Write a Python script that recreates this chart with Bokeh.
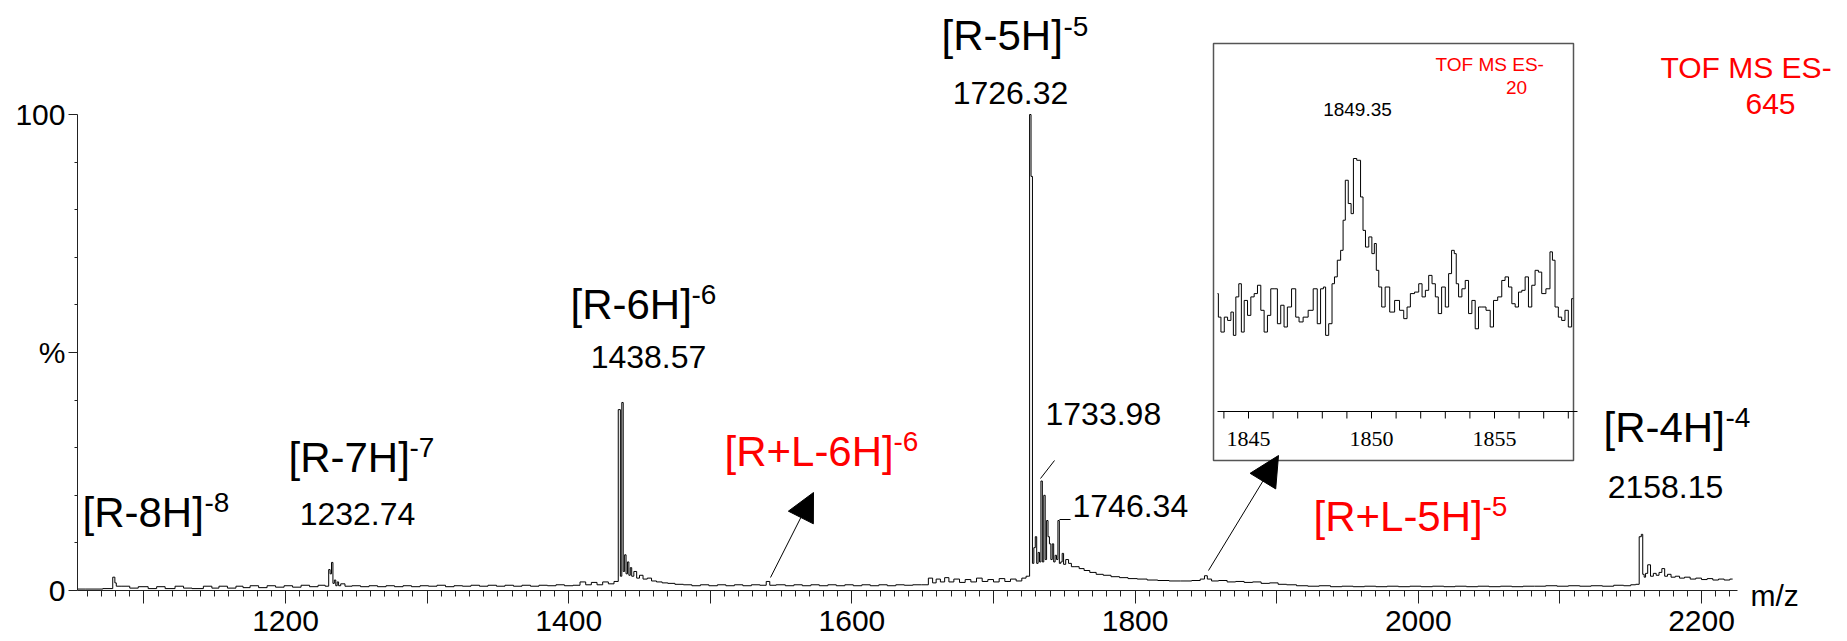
from bokeh.plotting import figure
from bokeh.models import Range1d, FixedTicker, Label, LabelSet, ColumnDataSource, Arrow, NormalHead
from bokeh.embed import file_html
from bokeh.resources import INLINE

# ---------------- data ----------------
spectrum_points = [
    (1053, 0.3), (1065, 0.3), (1077, 0.4), (1079, 2.8), (1080, 1.6), (1081, 0.9), (1088, 0.9), (1092, 0.5),
    (1100, 0.8), (1106, 0.4), (1112, 0.8), (1118, 0.4), (1126, 0.9), (1130, 0.5), (1138, 0.4), (1146, 0.9),
    (1150, 0.5), (1156, 0.9), (1162, 0.5), (1168, 0.9), (1172, 0.6), (1178, 1.0), (1184, 0.6), (1190, 1.0),
    (1196, 0.7), (1202, 1.0), (1208, 0.7), (1214, 1.1), (1220, 0.8), (1226, 1.1), (1230, 0.9),
    (1231, 4.4), (1232, 3.5), (1233, 5.9), (1234, 1.5), (1235, 2.2), (1236, 1.0), (1237, 1.8), (1238, 1.0),
    (1240, 1.4), (1244, 0.9), (1250, 1.0), (1256, 0.8), (1262, 1.0), (1268, 0.8), (1274, 1.0), (1280, 0.8),
    (1286, 1.0), (1292, 0.8), (1298, 1.0), (1304, 0.9), (1310, 1.1), (1316, 0.8), (1322, 1.0), (1328, 0.9),
    (1334, 1.1), (1340, 0.9), (1346, 1.1), (1352, 0.9), (1358, 1.1), (1364, 0.9), (1370, 1.1), (1376, 0.9),
    (1382, 1.1), (1388, 1.0), (1394, 1.2), (1400, 1.0), (1406, 1.1), (1410, 1.8), (1414, 1.2), (1418, 1.7),
    (1422, 1.2), (1426, 1.8), (1430, 1.4), (1434, 1.9),
    (1436, 38.0), (1437, 3.0), (1438, 39.5), (1439, 4.0), (1440, 7.5), (1441, 3.5), (1442, 6.0), (1443, 3.2),
    (1444, 4.8), (1445, 3.0), (1447, 4.0), (1449, 2.6), (1451, 3.2), (1454, 2.4), (1457, 2.6), (1460, 2.0),
    (1464, 1.8), (1468, 1.6), (1472, 1.5), (1478, 1.3), (1484, 1.2), (1490, 1.0), (1496, 1.2), (1502, 1.0),
    (1508, 1.2), (1514, 1.0), (1520, 1.2), (1526, 1.0), (1532, 1.2), (1538, 1.1), (1541, 1.9), (1543, 1.1),
    (1550, 1.2), (1556, 1.0), (1562, 1.2), (1568, 1.0), (1574, 1.2), (1580, 1.0), (1586, 1.2), (1592, 1.0),
    (1598, 1.2), (1604, 1.0), (1610, 1.2), (1616, 1.0), (1622, 1.2), (1628, 1.0), (1634, 1.2), (1640, 1.1),
    (1646, 1.2), (1652, 1.2), (1656, 2.6), (1658, 1.6), (1661, 2.4), (1664, 1.8), (1667, 2.7), (1670, 1.8),
    (1674, 2.4), (1678, 1.7), (1682, 2.3), (1686, 1.8), (1690, 2.6), (1694, 1.9), (1698, 2.3), (1702, 1.8),
    (1706, 2.5), (1710, 1.9), (1714, 2.4), (1718, 2.0), (1722, 2.6), (1724, 3.0), (1725, 3.0),
    (1726, 100.0), (1727, 87.0), (1728, 5.7), (1729, 9.0), (1730, 11.3), (1731, 5.7), (1732, 8.0), (1733, 6.0),
    (1734, 23.0), (1735, 6.0), (1736, 20.0), (1737, 6.5), (1738, 14.7), (1739, 11.3), (1740, 9.8), (1741, 6.5),
    (1742, 9.8), (1743, 6.0), (1744, 7.4), (1745, 6.5), (1746, 14.7), (1747, 5.7), (1748, 6.0), (1749, 7.8),
    (1750, 5.5), (1752, 6.5), (1754, 5.7), (1756, 5.0), (1759, 5.0), (1762, 4.6), (1766, 4.2), (1770, 3.8),
    (1775, 3.4), (1780, 3.2), (1786, 2.9), (1792, 2.7), (1798, 2.5), (1805, 2.4), (1812, 2.2), (1820, 2.1),
    (1828, 2.0), (1836, 2.0), (1844, 2.1), (1848, 2.4), (1850, 3.1), (1852, 2.4), (1856, 2.0), (1862, 2.1),
    (1868, 1.8), (1874, 1.9), (1880, 1.7), (1886, 1.8), (1892, 1.5), (1898, 1.6), (1904, 1.3), (1910, 1.2),
    (1918, 1.0), (1926, 0.9), (1934, 1.0), (1942, 0.8), (1950, 0.9), (1958, 0.8), (1966, 0.9), (1974, 0.8),
    (1982, 0.9), (1990, 0.8), (1998, 0.9), (2006, 0.8), (2014, 0.9), (2022, 0.8), (2030, 0.9), (2038, 0.8),
    (2046, 0.9), (2054, 0.8), (2062, 0.9), (2070, 0.8), (2078, 0.9), (2086, 0.9), (2094, 1.0), (2102, 0.9),
    (2110, 1.0), (2118, 0.9), (2126, 1.0), (2134, 0.9), (2142, 1.1), (2148, 1.0), (2152, 1.2), (2155, 1.3),
    (2157, 11.3), (2158, 11.8), (2159, 3.4), (2160, 2.8), (2161, 3.6), (2163, 5.4), (2165, 3.0), (2167, 3.6),
    (2169, 3.2), (2171, 3.8), (2173, 4.6), (2175, 3.0), (2177, 3.4), (2180, 2.8), (2183, 3.0), (2186, 2.6),
    (2190, 2.8), (2194, 2.4), (2198, 2.6), (2202, 2.3), (2206, 2.5), (2210, 2.2), (2214, 2.4), (2218, 2.2),
    (2222, 2.4),
]
spec_mz = [a for a, b in spectrum_points]
spec_int = [b for a, b in spectrum_points]

inset_points = [
    (1843.74, 46.6), (1843.81, 37.3), (1843.95, 31.4), (1844.08, 37.3), (1844.22, 36.0), (1844.35, 39.3),
    (1844.42, 30.1), (1844.55, 45.3), (1844.66, 50.5), (1844.76, 31.4), (1844.89, 43.9), (1845.03, 38.0),
    (1845.16, 45.3), (1845.30, 46.6), (1845.43, 49.9), (1845.57, 40.0), (1845.70, 31.4), (1845.84, 38.0),
    (1845.97, 48.5), (1846.11, 48.5), (1846.24, 34.7), (1846.38, 42.0), (1846.51, 33.4), (1846.65, 41.3),
    (1846.85, 48.5), (1846.99, 37.3), (1847.12, 35.4), (1847.32, 37.3), (1847.53, 40.0), (1847.73, 48.5),
    (1847.86, 34.7), (1848.00, 48.5), (1848.09, 49.2), (1848.18, 30.1), (1848.34, 34.7), (1848.45, 50.5),
    (1848.54, 53.2), (1848.68, 59.8), (1848.81, 63.7), (1848.88, 75.6), (1848.99, 91.4), (1849.12, 82.2),
    (1849.22, 78.2), (1849.31, 100.0), (1849.49, 99.3), (1849.62, 84.8), (1849.69, 71.6), (1849.82, 65.0),
    (1849.96, 69.0), (1850.07, 62.4), (1850.16, 66.4), (1850.23, 55.8), (1850.36, 49.2), (1850.47, 41.3),
    (1850.64, 49.2), (1850.84, 39.3), (1851.04, 43.9), (1851.24, 40.0), (1851.38, 36.7), (1851.51, 41.3),
    (1851.65, 46.6), (1851.85, 47.2), (1851.99, 50.5), (1852.12, 45.3), (1852.26, 47.9), (1852.39, 53.8),
    (1852.53, 50.5), (1852.66, 45.3), (1852.77, 38.7), (1852.93, 49.2), (1853.07, 41.3), (1853.20, 54.5),
    (1853.31, 63.7), (1853.42, 62.4), (1853.47, 50.5), (1853.61, 45.3), (1853.74, 48.5), (1853.88, 51.8),
    (1854.01, 38.7), (1854.15, 43.9), (1854.28, 32.7), (1854.42, 41.3), (1854.55, 41.3), (1854.76, 40.0),
    (1854.89, 33.4), (1855.03, 43.9), (1855.23, 45.3), (1855.36, 51.8), (1855.50, 53.2), (1855.64, 49.2),
    (1855.77, 42.6), (1855.91, 41.3), (1856.04, 47.2), (1856.18, 47.9), (1856.31, 53.2), (1856.45, 41.3),
    (1856.58, 49.9), (1856.72, 55.8), (1856.85, 55.1), (1856.99, 46.6), (1857.19, 48.5), (1857.32, 63.1),
    (1857.39, 59.8), (1857.53, 41.3), (1857.66, 37.3), (1857.80, 36.0), (1857.93, 40.0), (1858.07, 33.4),
    (1858.20, 44.6),
]
inset_mz = [a for a, b in inset_points]
inset_int = [b for a, b in inset_points]

x_major_ticks = [1100, 1200, 1300, 1400, 1500, 1600, 1700, 1800, 1900, 2000, 2100, 2200]
x_label_ticks = [1200, 1400, 1600, 1800, 2000, 2200]
x_minor_ticks = [m for m in range(1060, 2225, 10) if m % 100 != 0]
y_major_ticks = [0, 50, 100]
y_major_labels = {0: "0", 50: "%", 100: "100"}
y_minor_ticks = [10, 20, 30, 40, 60, 70, 80, 90]
inset_ticks = list(range(1844, 1859))
inset_label_ticks = [1845, 1850, 1855]

# ---------------- layout (page pixels; Bokeh's page template has no body margin) ----------------
W, H = 1847, 641
OFF = 0
AX_L, AX_R, AX_B = 77, 1737, 590
X_REF_M, X_REF_PX, X_PPU = 1200.0, 285.0, 1.416
Y_PPU = 4.76
IX_REF_M, IX_REF_PX, IX_PPU = 1845.0, 1248.0, 24.6
IY0_PX, IY_PPU = 411.0, 2.53


def mx(px):
    return X_REF_M + (px - X_REF_PX) / X_PPU


def vy(py):
    return (AX_B - py) / Y_PPU


def imx(px):
    return IX_REF_M + (px - IX_REF_PX) / IX_PPU


def ivy(py):
    return (IY0_PX - py) / IY_PPU


FONT = "Liberation Sans"
RED = "#ff0000"
AXC = "#222222"

p = figure(width=W, height=H, output_backend="svg", toolbar_location=None,
           x_range=Range1d(mx(OFF), mx(OFF + W)), y_range=Range1d(vy(OFF + H), vy(OFF)),
           min_border_left=0, min_border_right=0, min_border_top=0, min_border_bottom=0)
p.extra_x_ranges = {"ix": Range1d(imx(OFF), imx(OFF + W))}
p.extra_y_ranges = {"iy": Range1d(ivy(OFF + H), ivy(OFF))}
p.grid.visible = False
p.outline_line_color = None
p.background_fill_color = "white"
p.border_fill_color = "white"

# y axis (drawn at the left end of the x axis)
ya = p.yaxis[0]
ya.fixed_location = mx(AX_L)
ya.ticker = FixedTicker(ticks=y_major_ticks, minor_ticks=y_minor_ticks)
ya.major_label_overrides = y_major_labels
ya.bounds = (0, 100)
ya.major_label_text_font = FONT
ya.major_label_text_font_size = "30px"
ya.major_label_text_color = "black"
ya.major_tick_out = 9
ya.major_tick_in = 0
ya.minor_tick_out = 3
ya.minor_tick_in = 0
ya.major_label_standoff = 3
ya.axis_line_color = AXC
ya.major_tick_line_color = AXC
ya.minor_tick_line_color = AXC

# x axis (at intensity 0)
xa = p.xaxis[0]
xa.fixed_location = 0
xa.bounds = (mx(AX_L), mx(AX_R))
xa.ticker = FixedTicker(ticks=x_major_ticks, minor_ticks=x_minor_ticks)
xa.major_label_overrides = {t: (str(t) if t in x_label_ticks else "") for t in x_major_ticks}
xa.major_label_text_font = FONT
xa.major_label_text_font_size = "30px"
xa.major_label_text_color = "black"
xa.major_tick_out = 13
xa.major_tick_in = 0
xa.minor_tick_out = 6
xa.minor_tick_in = 0
xa.major_label_standoff = 7
xa.axis_line_color = AXC
xa.major_tick_line_color = AXC
xa.minor_tick_line_color = AXC

# main spectrum
p.step(x=spec_mz, y=spec_int, mode="center", line_color="black", line_width=1)

# inset
p.quad(left=imx(1213), right=imx(1573), top=ivy(43), bottom=ivy(460), fill_color="white",
       line_color="#555555", line_width=1.5, x_range_name="ix", y_range_name="iy")
p.segment(x0=[imx(1217)], y0=[0], x1=[imx(1577)], y1=[0], line_color="black", line_width=1,
          x_range_name="ix", y_range_name="iy")
p.segment(x0=inset_ticks, y0=[0] * len(inset_ticks), x1=inset_ticks, y1=[ivy(418)] * len(inset_ticks),
          line_color="black", line_width=1, x_range_name="ix", y_range_name="iy")
p.step(x=inset_mz, y=inset_int, mode="center", line_color="black", line_width=1,
       x_range_name="ix", y_range_name="iy")
isrc = ColumnDataSource(dict(x=inset_label_ticks, y=[ivy(438)] * 3, t=[str(t) for t in inset_label_ticks]))
p.add_layout(LabelSet(x="x", y="y", text="t", source=isrc, text_font=FONT, text_font_size="22px",
                      text_color="black", text_align="center", text_baseline="middle",
                      x_range_name="ix", y_range_name="iy"))


def lab(text, px, py, size, color="black", align="left"):
    p.add_layout(Label(x=mx(px), y=vy(py), text=text, text_font=FONT, text_font_size=f"{size}px",
                       text_color=color, text_align=align, text_baseline="middle"))


lab("[R-8H]", 82, 512, 42); lab("-8", 204, 502, 28)
lab("[R-7H]", 288, 457, 42); lab("-7", 409, 447, 28)
lab("1232.74", 357, 513, 32, align="center")
lab("[R-6H]", 570, 304, 42); lab("-6", 691, 294, 28)
lab("1438.57", 648, 356, 32, align="center")
lab("[R-5H]", 941, 35, 42); lab("-5", 1063, 26, 28)
lab("1726.32", 1010, 92, 32, align="center")
lab("1733.98", 1045, 413, 32)
lab("1746.34", 1072, 505, 32)
lab("[R-4H]", 1603, 427, 42); lab("-4", 1725, 417, 28)
lab("2158.15", 1665, 486, 32, align="center")
lab("[R+L-6H]", 724, 451, 42, RED); lab("-6", 893, 441, 28, RED)
lab("[R+L-5H]", 1313, 516, 42, RED); lab("-5", 1482, 506, 28, RED)
lab("TOF MS ES-", 1660, 67, 30, RED); lab("645", 1770, 103, 30, RED, "center")
lab("TOF MS ES-", 1435, 64, 19, RED); lab("20", 1516, 87, 19, RED, "center")
lab("1849.35", 1357, 109, 19, align="center")
lab("m/z", 1750, 595, 30)

# leader lines
p.segment(x0=[mx(1040), mx(1059)], y0=[vy(478), vy(519)], x1=[mx(1054), mx(1070)], y1=[vy(460), vy(519)],
          line_color="black", line_width=1)

# arrows
p.add_layout(Arrow(end=NormalHead(size=28, fill_color="black", line_color="black"),
                   x_start=mx(770), y_start=vy(577), x_end=mx(813), y_end=vy(492), line_width=1))
p.add_layout(Arrow(end=NormalHead(size=30, fill_color="black", line_color="black"),
                   x_start=mx(1208), y_start=vy(570), x_end=mx(1278), y_end=vy(455), line_width=1))

open("out.html", "w").write(file_html(p, INLINE))
